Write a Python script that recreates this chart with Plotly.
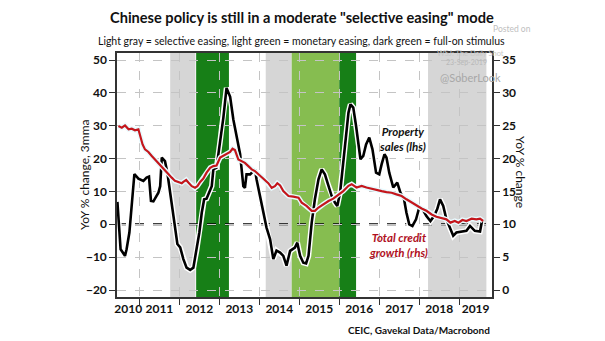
import plotly.graph_objects as go

# ---------------- data ----------------
prop_x = [2010.45, 2010.53, 2010.64, 2010.68, 2010.75, 2010.81, 2010.875, 2010.975, 2011.10, 2011.18,
          2011.24, 2011.29, 2011.35, 2011.475, 2011.52, 2011.56, 2011.64, 2011.70, 2011.77, 2011.83,
          2011.91, 2011.95, 2012.02, 2012.10, 2012.18, 2012.27, 2012.35, 2012.43, 2012.50, 2012.56,
          2012.62, 2012.68, 2012.75, 2012.81, 2012.85, 2012.93, 2013.02, 2013.10, 2013.18, 2013.27,
          2013.35, 2013.43, 2013.52, 2013.60, 2013.64, 2013.68, 2013.77, 2013.85, 2013.89, 2013.93,
          2014.02, 2014.10, 2014.18, 2014.27, 2014.35, 2014.43, 2014.52, 2014.60, 2014.68, 2014.77,
          2014.89, 2014.95, 2015.02, 2015.10, 2015.17, 2015.23, 2015.31, 2015.39, 2015.48, 2015.56,
          2015.64, 2015.73, 2015.81, 2015.89, 2015.95, 2016.02, 2016.10, 2016.17, 2016.23, 2016.28,
          2016.35, 2016.42, 2016.48, 2016.53, 2016.60, 2016.67, 2016.75, 2016.83, 2016.92, 2017.00,
          2017.06, 2017.13, 2017.18, 2017.25, 2017.35, 2017.45, 2017.53, 2017.62, 2017.68, 2017.75,
          2017.83, 2017.92, 2018.00, 2018.08, 2018.18, 2018.28, 2018.37, 2018.45, 2018.52, 2018.60,
          2018.68, 2018.77, 2018.85, 2018.93, 2019.06, 2019.18, 2019.27, 2019.39, 2019.52, 2019.57]
prop_sales = [6.8, -7.6, -9.6, -7.6, -2.5, 5.6, 15.3, 13.9, 13.2, 14.2,
              14.5, 7.1, 7.0, 9.6, 11.6, 20.3, 19.2, 15.7, 9.6, 4.6,
              -4.0, -6.0, -7.0, -10.6, -13.2, -13.9, -13.2, -8.0, -2.5, 3.5,
              7.6, 7.8, 9.6, 11.6, 16.7, 17.2, 25.3, 32.4, 41.5, 38.8,
              31.9, 26.8, 21.3, 11.6, 11.1, 15.2, 15.2, 16.2, 16.7, 13.7,
              8.6, 4.0, -1.0, -4.6, -10.6, -8.0, -8.6, -9.6, -12.6, -8.1,
              -7.1, -5.6, -9.6, -11.7, -11.9, -9.6, 0.5, 7.6, 13.7, 16.7,
              15.2, 11.7, 8.6, 6.6, 5.6, 9.6, 18.8, 27.9, 34.0, 36.5,
              35.5, 29.9, 23.8, 19.8, 20.8, 24.3, 26.4, 22.8, 15.7, 15.2,
              18.3, 21.3, 20.3, 15.7, 11.2, 12.7, 9.6, 7.6, 3.5, 0.0,
              -0.5, 1.5, 5.1, 4.6, 2.5, 1.0, 2.5, 4.6, 7.6, 5.6,
              1.5, -1.5, -3.5, -2.5, -2.3, -2.0, -0.5, -2.0, -2.2, 1.0]

credit_x = [2010.475, 2010.56, 2010.64, 2010.73, 2010.81, 2010.89, 2010.975, 2011.02, 2011.08, 2011.14,
            2011.225, 2011.31, 2011.39, 2011.475, 2011.56, 2011.64, 2011.725, 2011.81, 2011.89, 2011.975,
            2012.06, 2012.10, 2012.17, 2012.225, 2012.31, 2012.39, 2012.45, 2012.52, 2012.60, 2012.68,
            2012.77, 2012.85, 2012.93, 2013.02, 2013.10, 2013.18, 2013.27, 2013.33, 2013.39, 2013.475,
            2013.56, 2013.64, 2013.725, 2013.81, 2013.89, 2013.975, 2014.06, 2014.14, 2014.225, 2014.31,
            2014.39, 2014.45, 2014.52, 2014.60, 2014.73, 2014.85, 2014.98, 2015.06, 2015.18, 2015.31,
            2015.39, 2015.48, 2015.60, 2015.73, 2015.85, 2015.98, 2016.10, 2016.23, 2016.31, 2016.43,
            2016.56, 2016.68, 2016.81, 2016.93, 2017.06, 2017.18, 2017.31, 2017.43, 2017.56, 2017.68,
            2017.81, 2017.93, 2018.06, 2018.18, 2018.31, 2018.43, 2018.56, 2018.68, 2018.78, 2018.89,
            2018.98, 2019.08, 2019.18, 2019.31, 2019.43, 2019.52, 2019.60]
credit_growth = [24.95, 24.7, 25.05, 24.45, 24.55, 24.3, 24.45, 23.4, 22.15, 21.4,
                 21.0, 20.4, 19.85, 19.35, 18.85, 18.25, 17.7, 17.1, 16.6, 16.45,
                 16.25, 16.45, 16.75, 16.35, 15.8, 15.55, 15.8, 16.45, 16.95, 17.85,
                 18.6, 18.85, 18.95, 20.15, 20.4, 20.65, 21.0, 21.5, 21.3, 19.85,
                 19.6, 19.35, 18.85, 18.35, 18.1, 17.6, 17.25, 16.75, 16.25, 15.55,
                 15.8, 16.25, 15.9, 15.05, 14.3, 14.2, 14.05, 13.3, 12.8, 12.05,
                 12.05, 12.55, 13.05, 13.55, 13.9, 14.55, 15.05, 15.85, 16.1, 15.6,
                 15.85, 15.6, 15.45, 15.3, 15.05, 14.9, 14.8, 14.55, 14.3, 13.8,
                 13.3, 12.8, 12.4, 12.05, 11.5, 11.15, 11.0, 10.75, 10.25, 10.5,
                 10.25, 10.65, 10.5, 10.85, 10.75, 10.85, 10.5]

# policy periods (start, end) in years
selective_easing = [(2011.77, 2012.40), (2014.16, 2014.81), (2018.22, 2019.68)]
monetary_easing = [(2014.81, 2016.00)]
full_stimulus = [(2012.42, 2013.24), (2016.00, 2016.42)]

years = list(range(2010, 2020))
left_ticks = [-20, -10, 0, 10, 20, 30, 40, 50]
right_ticks = [0, 5, 10, 15, 20, 25, 30, 35]

# ---------------- styling ----------------
X_RANGE = [2010.44, 2019.82]
YL_RANGE = [-22.13, 52.13]
YR_RANGE = [-1.065, 36.065]
FONT = "Lato, sans-serif"
GRAY = "#d6d6d6"
LGREEN = "#86bd50"
DGREEN = "#177f17"
RED = "#c4161c"

fig = go.Figure()

# halos
fig.add_trace(go.Scatter(x=credit_x, y=credit_growth, yaxis="y2", mode="lines",
                         line=dict(color="#e8fbff", width=5), hoverinfo="skip", showlegend=False))
fig.add_trace(go.Scatter(x=credit_x, y=credit_growth, yaxis="y2", mode="lines",
                         line=dict(color=RED, width=2.2), name="Total credit growth (rhs)", showlegend=False))
fig.add_trace(go.Scatter(x=prop_x, y=prop_sales, mode="lines",
                         line=dict(color="white", width=5.5), hoverinfo="skip", showlegend=False))
fig.add_trace(go.Scatter(x=prop_x, y=prop_sales, mode="lines",
                         line=dict(color="black", width=2.6), name="Property sales (lhs)", showlegend=False))

shapes = []
for periods, col in ((selective_easing, GRAY), (monetary_easing, LGREEN), (full_stimulus, DGREEN)):
    for a, b in periods:
        shapes.append(dict(type="rect", xref="x", yref="paper", x0=a, x1=b, y0=0, y1=1,
                           fillcolor=col, line=dict(width=0), layer="below"))
shapes.append(dict(type="line", xref="paper", yref="y", x0=0, x1=1, y0=0, y1=0,
                   line=dict(color="black", width=2, dash="dash"), layer="between"))

# year labels centred on the visible part of each year
label_pos = [(max(y, X_RANGE[0]) + min(y + 1, X_RANGE[1])) / 2 for y in years]

TICKFONT = dict(size=12, color="#111111", family="Lato, sans-serif", weight="bold")

fig.update_layout(
    width=605, height=341,
    margin=dict(l=117, r=113, t=53, b=44),
    paper_bgcolor="white", plot_bgcolor="white",
    font=dict(family=FONT, color="#222222", size=12),
    shapes=shapes,
    xaxis=dict(range=X_RANGE, tickvals=label_pos, ticktext=[str(y) for y in years],
               ticks="", showgrid=False, zeroline=False, tickfont=TICKFONT,
               showline=True, linecolor="#333333", linewidth=1.5, mirror=True,
               minor=dict(tickvals=years[1:], ticks="outside", ticklen=6, tickcolor="#333333",
                          showgrid=True, gridcolor="#c4c4c4", griddash="dash", gridwidth=1)),
    yaxis=dict(range=YL_RANGE, tickvals=left_ticks, ticks="outside", ticklen=6, tickcolor="#333333",
               showgrid=True, gridcolor="#c4c4c4", griddash="dash", zeroline=False,
               tickfont=TICKFONT,
               showline=True, linecolor="#333333", linewidth=1.5, mirror=True),
    yaxis2=dict(range=YR_RANGE, tickvals=right_ticks, overlaying="y", side="right",
                ticks="outside", ticklen=6, tickcolor="#333333", showgrid=False, zeroline=False,
                tickfont=TICKFONT,
                showline=True, linecolor="#333333", linewidth=1.5),
    showlegend=False,
)

def ann(text, x, y, size, color="#111111", bold=False, italic=False, xanchor="center", angle=0,
        xref="paper", yref="paper", opacity=1.0, align="center"):
    t = text
    if bold:
        t = "<b>" + t + "</b>"
    if italic:
        t = "<i>" + t + "</i>"
    fig.add_annotation(text=t, x=x, y=y, xref=xref, yref=yref, showarrow=False,
                       font=dict(size=size, color=color, family=FONT), xanchor=xanchor,
                       yanchor="middle", textangle=angle, opacity=opacity, align=align)

def px(xp):
    return (xp - 117) / 375

def py(yp):
    return (297 - yp) / 244

# watermark (faint, as in the source image)
ann("Posted on", px(512), py(29), 8.5, color="#c0c0c0")
ann("WSJ: The Daily Shot", px(470), py(53), 7.5, color="#c8c8c8")
ann("23-Sep-2019", px(489), py(62.5), 7, color="#b8b8b8", xanchor="right")
ann("@SoberLook", px(470), py(77), 11, color="#a8a8a8")

ann("Chinese policy is still in a moderate \"selective easing\" mode", px(302), py(17), 14.6, bold=True)
ann("Light gray = selective easing, light green = monetary easing, dark green = full-on stimulus",
    px(301), py(41), 10.5)
ann("YoY % change, 3mma", px(84), py(175), 12, angle=-90)
ann("YoY % change", px(521), py(172), 12, angle=90)
ann("Property<br>sales (lhs)", 2017.57, 26.0, 11.5, bold=True, italic=True, xref="x", yref="y")
ann("Total credit<br>growth (rhs)", 2017.47, -6.4, 11.5, color="#b0101e", bold=True, italic=True,
    xref="x", yref="y")
ann("CEIC, Gavekal Data/Macrobond", px(492), py(330), 10, bold=True, xanchor="right")

fig.write_html("out.html")
